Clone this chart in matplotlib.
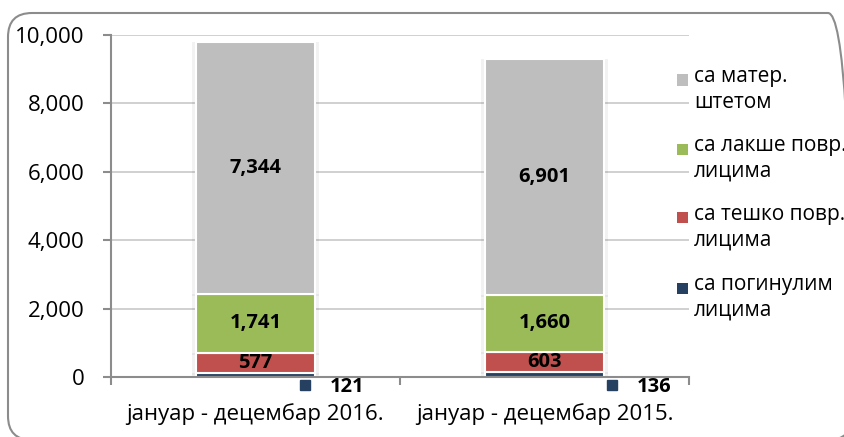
import matplotlib
matplotlib.use("Agg")
import matplotlib.pyplot as plt
from matplotlib.patches import FancyBboxPatch, Rectangle

plt.rcParams['font.family'] = ['Open Sans', 'DejaVu Sans']
plt.rcParams['savefig.bbox'] = 'standard'

categories = ["јануар - децембар 2016.", "јануар - децембар 2015."]
series_names = ["са погинулим\nлицима", "са тешко повр.\nлицима", "са лакше повр.\nлицима", "са матер.\nштетом"]
poginuli = [121, 136]
teske = [577, 603]
lakse = [1741, 1660]
mater = [7344, 6901]
series = [poginuli, teske, lakse, mater]
colors = ["#254061", "#C0504D", "#9BBB59", "#BEBEBE"]
yticks = [0, 2000, 4000, 6000, 8000, 10000]

W, H = 845, 437
fig = plt.figure(figsize=(W / 100, H / 100), dpi=100)

# background overlay in pixel units (y measured from bottom) for the rounded frame
bg = fig.add_axes([0, 0, 1, 1], zorder=-1)
bg.set_xlim(0, W)
bg.set_ylim(0, H)
bg.axis("off")
bg.add_patch(FancyBboxPatch((8, H - 440), 852 - 8, 440 - 13,
                            boxstyle="round,pad=0,rounding_size=24",
                            facecolor="none", edgecolor="#8C8C8C", linewidth=1.5,
                            clip_on=True))

ax = fig.add_axes([111 / W, 1 - 377 / H, (689 - 111) / W, (377 - 35) / H])
ax.patch.set_alpha(0)
x = list(range(len(categories)))
width = 0.415

bottom = [0, 0]
for vals, col in zip(series, colors):
    for i in x:
        ax.add_patch(Rectangle((i - width / 2 - 0.012, bottom[i] - 60), width + 0.024, vals[i] + 60,
                               facecolor="#000000", alpha=0.05, edgecolor="none", zorder=1.5))
    ax.bar(x, vals, width, bottom=bottom, color=col, edgecolor="white", linewidth=1.5, zorder=2)
    bottom = [b + v for b, v in zip(bottom, vals)]

bottom = [poginuli[0], poginuli[1]]
for vals in series[1:]:
    for i in x:
        ax.text(i, bottom[i] + vals[i] / 2, f"{vals[i]:,}", ha="center", va="center",
                fontsize=14.5, fontweight="bold", color="black", zorder=4)
    bottom = [b + v for b, v in zip(bottom, vals)]

label_off = [0.258, 0.32]
for i in x:
    ax.plot([i + label_off[i] - 0.085], [-240], marker="s", markersize=7, color=colors[0],
            clip_on=False, zorder=4)
    ax.text(i + label_off[i], -280, f"{poginuli[i]:,}", ha="left", va="center",
            fontsize=14.5, fontweight="bold", color="black", clip_on=False)

ax.set_xlim(-0.5, 1.5)
ax.set_ylim(0, 10000)
ax.set_yticks(yticks)
ax.set_yticklabels([f"{v:,}" for v in yticks], fontsize=16)
ax.set_xticks([-0.5, 0.5, 1.5])
ax.set_xticklabels([])
ax.tick_params(axis="y", length=6, width=1.5, color="#8C8C8C", pad=13)
ax.tick_params(axis="x", length=6, width=1.5, color="#8C8C8C")
for i in x:
    ax.text(i, -1080, categories[i], ha="center", va="center", fontsize=16, color="black")

ax.grid(axis="y", color="#C8C8C8", linewidth=1.2, zorder=0)
ax.set_axisbelow(True)
for s in ["top", "right"]:
    ax.spines[s].set_visible(False)
for s in ["left", "bottom"]:
    ax.spines[s].set_color("#8C8C8C")
    ax.spines[s].set_linewidth(1.5)
ax.spines["bottom"].set_zorder(3)

leg_y = [80, 149, 218, 288]
order = [3, 2, 1, 0]
for yy, k in zip(leg_y, order):
    fig.add_artist(Rectangle((677 / W, 1 - (yy + 5.5) / H), 11 / W, 11 / H,
                             transform=fig.transFigure, facecolor=colors[k], edgecolor="none"))
    fig.text(694 / W, 1 - (yy - 14) / H, series_names[k], ha="left", va="top",
             fontsize=15, linespacing=1.3, color="black")

fig.savefig("out.png", dpi=100, bbox_inches=None)
